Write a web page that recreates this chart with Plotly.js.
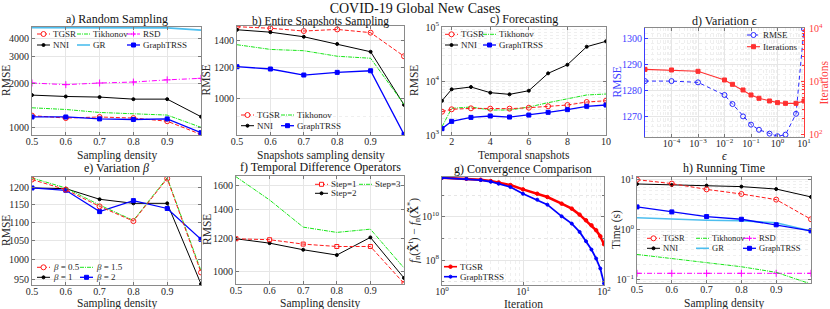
<!DOCTYPE html>
<html><head><meta charset="utf-8">
<script src="https://cdn.plot.ly/plotly-3.0.1.min.js"></script>
<style>html,body{margin:0;padding:0;background:#fff}</style>
</head><body><div id="chart" style="width:830px;height:309px"></div>
<script>
// ---------------- data ----------------
const density = [0.5, 0.6, 0.7, 0.8, 0.9, 1.0];
const densityTicks = [0.5, 0.6, 0.7, 0.8, 0.9];
const densityTickText = ['0.5', '0.6', '0.7', '0.8', '0.9'];

// a) Random Sampling (RMSE)
const aTGSR      = [1210, 1165, 1185, 1165, 1110, 905];
const aTikhonov  = [1365, 1330, 1270, 1250, 1220, 1010];
const aRSD       = [2000, 1950, 2000, 2030, 2100, 2150];
const aNNI       = [1660, 1625, 1610, 1560, 1560, 1190];
const aGR        = [4700, 4700, 4700, 4700, 4680, 4520];
const aGraphTRSS = [1185, 1185, 1150, 1140, 1150, 930];
const aYTicks = [1000, 2000, 3000, 4000];
const aYTickText = ['1000', '2000', '3000', '4000'];

// b) Entire Snapshots Sampling (RMSE)
const bTGSR      = [1520, 1506, 1482, 1496, 1468, 1279];
const bTikhonov  = [1368, 1331, 1321, 1279, 1264, 966];
const bNNI       = [1493, 1472, 1433, 1374, 1313, 963];
const bGraphTRSS = [1203, 1187, 1146, 1164, 1175, 810];
const bYTicks = [1000, 1200, 1400];
const bYTickText = ['1000', '1200', '1400'];

// c) Forecasting (RMSE)
const snapshots = [1.5, 2, 3, 4, 5, 6, 7, 8, 9, 10];
const cTGSR      = [2700, 2990, 3120, 3075, 3075, 3200, 3400, 3590, 4080, 4310];
const cTikhonov  = [1425, 3120, 3300, 2900, 2900, 3300, 3970, 4640, 5510, 5740];
const cNNI       = [4310, 7020, 7740, 6080, 5660, 6610, 13870, 20000, 43150, 54300];
const cGraphTRSS = [1310, 1790, 2120, 2250, 2150, 2340, 2630, 2950, 3400, 3590];
const cXTicks = [2, 4, 6, 8, 10];
const cXTickText = ['2', '4', '6', '8', '10'];
const cYTicks = [1e3, 1e4, 1e5];
const cYTickText = ['10<sup>3</sup>', '10<sup>4</sup>', '10<sup>5</sup>'];

// d) Variation epsilon
const epsilon     = [1e-5, 1e-4, 1e-3, 1e-2, 2e-2, 5e-2, 0.1, 0.2, 0.5, 1, 2, 5, 10];
const dRMSE       = [1283.6, 1283.6, 1283.1, 1278.2, 1274.7, 1269.9, 1266.7, 1264.7, 1263.2, 1262.2, 1262.8, 1270.9, 1303.8];
const dIterations = [1700, 1655, 1563, 1075, 891, 698, 562, 487, 434, 404, 392, 392, 434];
const dXTicks = [1e-4, 1e-3, 1e-2, 1e-1, 1, 10];
const dXTickText = ['10<sup>−4</sup>', '10<sup>−3</sup>', '10<sup>−2</sup>', '10<sup>−1</sup>', '10<sup>0</sup>', '10<sup>1</sup>'];
const dYTicks = [1270, 1280, 1290, 1300];
const dY2Ticks = [100, 1000, 10000];
const dY2TickText = ['10<sup>2</sup>', '10<sup>3</sup>', '10<sup>4</sup>'];

// e) Variation beta (RMSE)
const eBeta05 = [1226, 1195, 1145, 1103, 1229, 968];
const eBeta15 = [1231, 1200, 1149, 1105, 1232, 972];
const eBeta1  = [1200, 1198, 1166, 1154, 1154, 940];
const eBeta2  = [1200, 1193, 1130, 1162, 1139, 1053];
const eYTicks = [950, 1000, 1050, 1100, 1150, 1200];
const eYTickText = ['950', '1000', '1050', '1100', '1150', '1200'];

// f) Temporal Difference Operators (RMSE)
const fStep1 = [1197, 1191, 1163, 1148, 1148, 940];
const fStep2 = [1197, 1169, 1128, 1096, 1206, 968];
const fStep3 = [1675, 1477, 1275, 1239, 1261, 1022];
const fYTicks = [1000, 1200, 1400, 1600];
const fYTickText = ['1000', '1200', '1400', '1600'];

// g) Convergence Comparison
const iterations  = [1, 2, 3, 4, 5, 7, 10, 15, 20, 30, 40, 50, 60, 70, 80, 90, 100];
const gTGSR      = [6.53e11, 5.87e11, 5.28e11, 4.59e11, 3.98e11, 3.0e11, 1.89e11, 1.19e11, 8.37e10, 4.12e10, 2.43e10, 1.28e10, 7.0e9, 4.12e9, 2.43e9, 1.28e9, 5.47e8];
const gGraphTRSS = [6.53e11, 5.87e11, 5.1e11, 4.27e11, 3.45e11, 2.43e11, 1.19e11, 6.31e10, 3.71e10, 1.07e10, 4.92e9, 2.03e9, 7.5e8, 3.1e8, 1.19e8, 4.12e7, 8.4e6];
const gXTicks = [1, 10, 100];
const gXTickText = ['10<sup>0</sup>', '10<sup>1</sup>', '10<sup>2</sup>'];
const gYTicks = [1e8, 1e10];
const gYTickText = ['10<sup>8</sup>', '10<sup>10</sup>'];

// h) Running Time (s)
const hTGSR      = [9.85, 8.2, 6.3, 5.1, 3.94, 1.6];
const hTikhonov  = [0.318, 0.265, 0.218, 0.181, 0.14, 0.082];
const hRSD       = [0.134, 0.134, 0.134, 0.134, 0.134, 0.134];
const hNNI       = [8.07, 7.7, 7.5, 7.15, 6.4, 4.46];
const hGR        = [1.71, 1.6, 1.53, 1.49, 1.36, 0.93];
const hGraphTRSS = [2.82, 2.24, 1.81, 1.6, 1.24, 0.94];
const hYTicks = [0.1, 1, 10];
const hYTickText = ['10<sup>−1</sup>', '10<sup>0</sup>', '10<sup>1</sup>'];

// ---------------- layout helpers ----------------
const W = 830, H = 309;
const FONT = '"Liberation Serif", "DejaVu Serif", serif';
const X = v => v / W, Y = v => 1 - v / H;
const box = {
  a: {l: 32, r: 201, t: 27, b: 135},
  b: {l: 237, r: 404, t: 26, b: 135},
  c: {l: 442, r: 606, t: 27, b: 135},
  d: {l: 645, r: 804, t: 28, b: 137},
  e: {l: 32, r: 201, t: 177, b: 285},
  f: {l: 236, r: 404, t: 176, b: 284},
  g: {l: 442, r: 604, t: 177, b: 285},
  h: {l: 637, r: 811, t: 177, b: 283}
};
const BLUE_AX = '#3c3cff', RED_AX = '#ff3c3c';

const ST = {
  TGSR:      {color: '#ff1a1a', dash: '4px,2px', width: 1, symbol: 'circle-open', msize: 5},
  Tikhonov:  {color: '#19e619', dash: '4px,1px,1px,1px', width: 1, symbol: null},
  RSD:       {color: '#ff00ff', dash: '5px,2px,1px,2px', width: 1, symbol: 'cross-thin-open', msize: 5},
  NNI:       {color: '#000000', dash: 'solid', width: 1, symbol: 'circle', msize: 3},
  GR:        {color: '#4dbeee', dash: 'solid', width: 1.6, symbol: null},
  GraphTRSS: {color: '#0000ff', dash: 'solid', width: 1.3, symbol: 'square', msize: 4},
  RMSEd:     {color: '#2929ff', dash: '4px,3px', width: 1, symbol: 'circle-open', msize: 5},
  Iter:      {color: '#ff3030', dash: 'solid', width: 1.1, symbol: 'square', msize: 4},
  Step1:     {color: '#ff1a1a', dash: '4px,2px', width: 1, symbol: 'square-open', msize: 4},
  gTGSR:     {color: '#ff0000', dash: 'solid', width: 2.6, symbol: 'circle', msize: 3.5},
  gGraph:    {color: '#0000ff', dash: 'solid', width: 1.8, symbol: 'circle', msize: 3}
};

function tr(x, y, st, xa, ya, name) {
  const t = {type: 'scatter', x: x, y: y, name: name, xaxis: xa, yaxis: ya,
    mode: st.symbol ? 'lines+markers' : 'lines',
    line: {color: st.color, dash: st.dash, width: st.width},
    showlegend: false, hoverinfo: 'skip'};
  if (st.symbol) t.marker = {symbol: st.symbol, size: st.msize, color: st.color,
    line: {color: st.color, width: 1}};
  return t;
}

const data = [
  tr(density, aGR, ST.GR, 'x', 'y', 'GR'),
  tr(density, aRSD, ST.RSD, 'x', 'y', 'RSD'),
  tr(density, aNNI, ST.NNI, 'x', 'y', 'NNI'),
  tr(density, aTikhonov, ST.Tikhonov, 'x', 'y', 'Tikhonov'),
  tr(density, aTGSR, ST.TGSR, 'x', 'y', 'TGSR'),
  tr(density, aGraphTRSS, ST.GraphTRSS, 'x', 'y', 'GraphTRSS'),

  tr(density, bTGSR, ST.TGSR, 'x2', 'y2', 'TGSR'),
  tr(density, bNNI, ST.NNI, 'x2', 'y2', 'NNI'),
  tr(density, bTikhonov, ST.Tikhonov, 'x2', 'y2', 'Tikhonov'),
  tr(density, bGraphTRSS, ST.GraphTRSS, 'x2', 'y2', 'GraphTRSS'),

  tr(snapshots, cNNI, ST.NNI, 'x3', 'y3', 'NNI'),
  tr(snapshots, cTikhonov, ST.Tikhonov, 'x3', 'y3', 'Tikhonov'),
  tr(snapshots, cTGSR, ST.TGSR, 'x3', 'y3', 'TGSR'),
  tr(snapshots, cGraphTRSS, ST.GraphTRSS, 'x3', 'y3', 'GraphTRSS'),

  tr(epsilon, dRMSE, ST.RMSEd, 'x4', 'y4', 'RMSE'),
  tr(epsilon, dIterations, ST.Iter, 'x4', 'y9', 'Iterations'),

  tr(density, eBeta1, ST.NNI, 'x5', 'y5', 'β = 1'),
  tr(density, eBeta2, ST.GraphTRSS, 'x5', 'y5', 'β = 2'),
  tr(density, eBeta15, ST.Tikhonov, 'x5', 'y5', 'β = 1.5'),
  tr(density, eBeta05, ST.TGSR, 'x5', 'y5', 'β = 0.5'),

  tr(density, fStep3, ST.Tikhonov, 'x6', 'y6', 'Step=3'),
  tr(density, fStep2, ST.NNI, 'x6', 'y6', 'Step=2'),
  tr(density, fStep1, ST.Step1, 'x6', 'y6', 'Step=1'),

  tr(iterations, gTGSR, ST.gTGSR, 'x7', 'y7', 'TGSR'),
  tr(iterations, gGraphTRSS, ST.gGraph, 'x7', 'y7', 'GraphTRSS'),

  tr(density, hRSD, ST.RSD, 'x8', 'y8', 'RSD'),
  tr(density, hTikhonov, ST.Tikhonov, 'x8', 'y8', 'Tikhonov'),
  tr(density, hNNI, ST.NNI, 'x8', 'y8', 'NNI'),
  tr(density, hGR, ST.GR, 'x8', 'y8', 'GR'),
  tr(density, hTGSR, ST.TGSR, 'x8', 'y8', 'TGSR'),
  tr(density, hGraphTRSS, ST.GraphTRSS, 'x8', 'y8', 'GraphTRSS')
];

const tickF = {family: FONT, size: 10, color: '#262626'};
const titleF = {family: FONT, size: 11.5, color: '#262626'};
const common = {showline: true, linecolor: '#8a8a8a', linewidth: 1, mirror: 'ticks',
  ticks: 'inside', ticklen: 3, tickcolor: '#777', gridcolor: '#e6e6e6', gridwidth: 1,
  zeroline: false, tickfont: tickF, automargin: false, fixedrange: true};
const minorLog = {dtick: 'D1', showgrid: true, gridcolor: '#efefef', griddash: 'dot', ticks: ''};

function xax(b, anchor, o) { return Object.assign({}, common, {domain: [X(b.l), X(b.r)], anchor: anchor, ticklabelstandoff: -3}, o); }
function yax(b, anchor, o) { return Object.assign({}, common, {domain: [Y(b.b), Y(b.t)], anchor: anchor}, o); }
const xDensity = {range: [0.5, 1.0], tickmode: 'array', tickvals: densityTicks, ticktext: densityTickText};

const layout = {
  width: W, height: H, margin: {l: 0, r: 0, t: 0, b: 0},
  paper_bgcolor: '#ffffff', plot_bgcolor: '#ffffff', showlegend: false,
  title: {text: 'COVID-19 Global New Cases', font: {family: FONT, size: 14, color: '#111'},
    x: 0.5, xanchor: 'center', y: Y(7.8), yanchor: 'middle', yref: 'container'},
  xaxis: xax(box.a, 'y', xDensity),
  yaxis: yax(box.a, 'x', {type: 'log', range: [2.953, 3.676], tickmode: 'array', tickvals: aYTicks, ticktext: aYTickText, minor: minorLog}),
  xaxis2: xax(box.b, 'y2', xDensity),
  yaxis2: yax(box.b, 'x2', {type: 'log', range: [2.907, 3.1836], tickmode: 'array', tickvals: bYTicks, ticktext: bYTickText, minor: minorLog}),
  xaxis3: xax(box.c, 'y3', {range: [1.5, 10], tickmode: 'array', tickvals: cXTicks, ticktext: cXTickText}),
  yaxis3: yax(box.c, 'x3', {type: 'log', range: [3, 5], tickmode: 'array', tickvals: cYTicks, ticktext: cYTickText, minor: minorLog}),
  xaxis4: xax(box.d, 'y4', {type: 'log', range: [-5, 1], tickmode: 'array', tickvals: dXTicks, ticktext: dXTickText, minor: minorLog}),
  yaxis4: yax(box.d, 'x4', {range: [1261.9, 1304.2], tickmode: 'array', tickvals: dYTicks, mirror: false, linecolor: BLUE_AX, tickcolor: BLUE_AX,
    tickfont: Object.assign({}, tickF, {color: BLUE_AX}), minor: {dtick: 2, showgrid: true, gridcolor: '#efefef', griddash: 'dot', ticks: ''}}),
  yaxis9: Object.assign({}, common, {domain: [Y(box.d.b), Y(box.d.t)], anchor: 'x4', overlaying: 'y4', side: 'right', type: 'log', range: [1.962, 4.006],
    tickmode: 'array', tickvals: dY2Ticks, ticktext: dY2TickText, showgrid: false, mirror: false, linecolor: RED_AX, tickcolor: RED_AX, ticklabelstandoff: 2,
    tickfont: Object.assign({}, tickF, {color: RED_AX}), minor: {dtick: 'D1', ticks: 'inside', ticklen: 2, tickcolor: RED_AX, showgrid: false}}),
  xaxis5: xax(box.e, 'y5', xDensity),
  yaxis5: yax(box.e, 'x5', {type: 'log', range: [2.972, 3.0913], tickmode: 'array', tickvals: eYTicks, ticktext: eYTickText}),
  xaxis6: xax(box.f, 'y6', xDensity),
  yaxis6: yax(box.f, 'x6', {type: 'log', range: [2.9717, 3.2258], tickmode: 'array', tickvals: fYTicks, ticktext: fYTickText}),
  xaxis7: xax(box.g, 'y7', {type: 'log', range: [0, 2], tickmode: 'array', tickvals: gXTicks, ticktext: gXTickText, minor: minorLog}),
  yaxis7: yax(box.g, 'x7', {type: 'log', range: [6.85, 11.85], tickmode: 'array', tickvals: gYTicks, ticktext: gYTickText,
    minor: {dtick: 1, showgrid: true, gridcolor: '#e6e6e6', griddash: 'dot', ticks: 'inside', ticklen: 2}}),
  xaxis8: xax(box.h, 'y8', xDensity),
  yaxis8: yax(box.h, 'x8', {type: 'log', range: [-1.066, 1.046], tickmode: 'array', tickvals: hYTicks, ticktext: hYTickText, minor: minorLog}),
  shapes: [],
  annotations: []
};

function note(text, x, y, o) {
  layout.annotations.push(Object.assign({xref: 'paper', yref: 'paper', x: X(x), y: Y(y), xanchor: 'center', yanchor: 'middle',
    text: text, showarrow: false, font: titleF}, o || {}));
}

// subplot titles
const subTitles = [
  ['a) Random Sampling', box.a, 19.5, 12],
  ['b) Entire Snapshots Sampling', box.b, 21.8, 11.5],
  ['c) Forecasting', box.c, 19.5, 12],
  ['d) Variation <i>ϵ</i>', box.d, 20.5, 12],
  ['e) Variation <i>β</i>', box.e, 168, 12],
  ['f) Temporal Difference Operators', box.f, 167, 12],
  ['g) Convergence Comparison', box.g, 169, 12],
  ['h) Running Time', box.h, 167.5, 12]
];
subTitles.forEach(([t, b, y, fs]) => note(t, (b.l + b.r) / 2, y, {font: {family: FONT, size: fs, color: '#111'}}));

// axis titles
const xTitles = [
  ['Sampling density', box.a, 155], ['Snapshots sampling density', box.b, 155],
  ['Temporal snapshots', box.c, 155], ['<i>ϵ</i>', box.d, 156],
  ['Sampling density', box.e, 303.5], ['Sampling density', box.f, 303.5],
  ['Iteration', box.g, 303.5], ['Sampling density', box.h, 303.5]
];
xTitles.forEach(([t, b, y]) => note(t, (b.l + b.r) / 2, y));
const yTitles = [
  ['RMSE', 6, box.a, '#262626'], ['RMSE', 206, box.b, '#262626'], ['RMSE', 414, box.c, '#262626'],
  ['RMSE', 616, box.d, BLUE_AX], ['Iterations', 823, box.d, RED_AX],
  ['RMSE', 6, box.e, '#262626'], ['RMSE', 207, box.f, '#262626'],
  ['<i>f</i><sub>n</sub>(<b>X̃</b><sup>t</sup>) − <i>f</i><sub>n</sub>(<b>X̃</b><sup>*</sup>)', 414, box.g, '#262626'],
  ['Time (s)', 616, box.h, '#262626']
];
yTitles.forEach(([t, x, b, c]) => note(t, x, (b.t + b.b) / 2, {textangle: -90, font: Object.assign({}, titleF, {color: c})}));

// legends (MATLAB-style short keys)
function keyMarker(st, cx, cy) {
  if (!st.symbol) return;
  const base = {xref: 'paper', yref: 'paper', xsizemode: 'pixel', ysizemode: 'pixel', xanchor: X(cx), yanchor: Y(cy)};
  const r = st.msize / 2;
  if (st.symbol.startsWith('circle')) {
    layout.shapes.push(Object.assign({type: 'circle', x0: -r, x1: r, y0: -r, y1: r,
      line: {color: st.color, width: 1}, fillcolor: st.symbol.endsWith('open') ? '#ffffff' : st.color}, base));
  } else if (st.symbol.startsWith('square')) {
    layout.shapes.push(Object.assign({type: 'rect', x0: -r, x1: r, y0: -r, y1: r,
      line: {color: st.color, width: 1}, fillcolor: st.symbol.endsWith('open') ? '#ffffff' : st.color}, base));
  } else if (st.symbol.startsWith('cross')) {
    layout.shapes.push(Object.assign({type: 'line', x0: -r, x1: r, y0: 0, y1: 0, line: {color: st.color, width: 1}}, base));
    layout.shapes.push(Object.assign({type: 'line', x0: 0, x1: 0, y0: -r, y1: r, line: {color: st.color, width: 1}}, base));
  }
}
function addLegend(rows, cols, rowsY, fs) {
  rows.forEach((row, ri) => row.forEach((it, ci) => {
    if (!it) return;
    const [label, st] = it;
    const x0 = cols[ci], y0 = rowsY[ri];
    layout.shapes.push({type: 'line', xref: 'paper', yref: 'paper', x0: X(x0), x1: X(x0 + 13), y0: Y(y0), y1: Y(y0),
      line: {color: st.color, width: Math.min(st.width, 1.6), dash: st.dash}});
    keyMarker(st, x0 + 6.5, y0);
    note(label, x0 + 14, y0, {xanchor: 'left', font: {family: FONT, size: fs || 9, color: '#262626'}});
  }));
}
addLegend([[['TGSR', ST.TGSR], ['Tikhonov', ST.Tikhonov], ['RSD', ST.RSD]],
           [['NNI', ST.NNI], ['GR', ST.GR], ['GraphTRSS', ST.GraphTRSS]]], [37, 77, 127], [34, 45]);
addLegend([[['TGSR', ST.TGSR], ['Tikhonov', ST.Tikhonov]],
           [['NNI', ST.NNI], ['GraphTRSS', ST.GraphTRSS]]], [241, 281], [115, 125.7]);
addLegend([[['TGSR', ST.TGSR], ['Tikhonov', ST.Tikhonov]],
           [['NNI', ST.NNI], ['GraphTRSS', ST.GraphTRSS]]], [445, 483], [34.3, 45]);
addLegend([[['RMSE', ST.RMSEd]], [['Iterations', ST.Iter]]], [747], [35, 46.7]);
addLegend([[['<i>β</i> = 0.5', ST.TGSR], ['<i>β</i> = 1.5', ST.Tikhonov]],
           [['<i>β</i> = 1', ST.NNI], ['<i>β</i> = 2', ST.GraphTRSS]]], [37, 80], [267.3, 277.3]);
addLegend([[['Step=1', ST.Step1], ['Step=3', ST.Tikhonov]],
           [['Step=2', ST.NNI], null]], [315, 359], [184.3, 193.3]);
addLegend([[['TGSR', ST.gTGSR]], [['GraphTRSS', ST.gGraph]]], [444], [266.7, 276.7]);
addLegend([[['TGSR', ST.TGSR], ['Tikhonov', ST.Tikhonov], ['RSD', ST.RSD]],
           [['NNI', ST.NNI], ['GR', ST.GR], ['GraphTRSS', ST.GraphTRSS]]], [647, 696, 743], [238.3, 248.3], 8.5);

Plotly.newPlot('chart', data, layout, {displayModeBar: false, staticPlot: true});
</script>
</body></html>
